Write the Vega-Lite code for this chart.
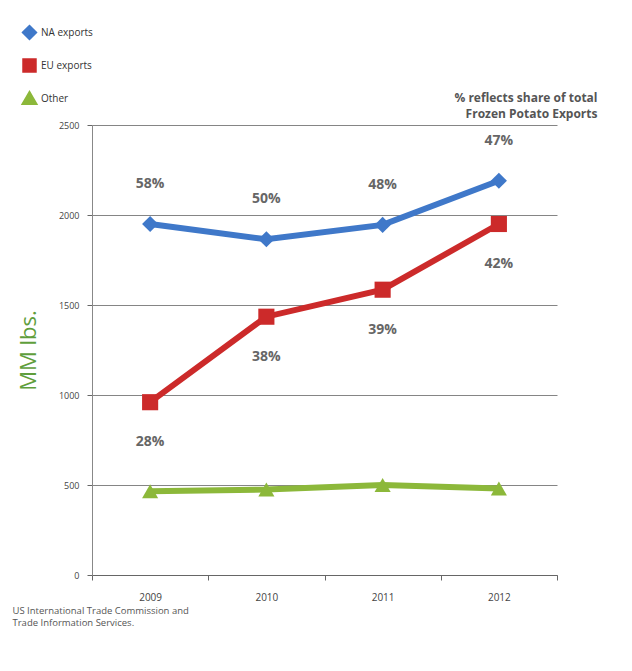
{
  "$schema": "https://vega.github.io/schema/vega-lite/v6.json",
  "width": 465,
  "height": 450,
  "padding": {"left": 12, "top": 25, "right": 20, "bottom": 5},
  "background": "white",
  "title": {
    "text": ["% reflects share of total", "Frozen Potato Exports"],
    "anchor": "end",
    "fontSize": 12,
    "fontWeight": "bold",
    "color": "#555555",
    "font": "Open Sans",
    "lineHeight": 16,
    "offset": -96,
    "dx": 40
  },
  "data": {
    "values": [
      {"year": "2009", "series": "NA exports", "value": 1950, "share": "58%"},
      {"year": "2010", "series": "NA exports", "value": 1865, "share": "50%"},
      {"year": "2011", "series": "NA exports", "value": 1945, "share": "48%"},
      {"year": "2012", "series": "NA exports", "value": 2190, "share": "47%"},
      {"year": "2009", "series": "EU exports", "value": 960, "share": "28%"},
      {"year": "2010", "series": "EU exports", "value": 1435, "share": "38%"},
      {"year": "2011", "series": "EU exports", "value": 1585, "share": "39%"},
      {"year": "2012", "series": "EU exports", "value": 1950, "share": "42%"},
      {"year": "2009", "series": "Other", "value": 465, "share": ""},
      {"year": "2010", "series": "Other", "value": 475, "share": ""},
      {"year": "2011", "series": "Other", "value": 500, "share": ""},
      {"year": "2012", "series": "Other", "value": 480, "share": ""}
    ]
  },
  "encoding": {
    "x": {
      "field": "year",
      "type": "ordinal",
      "scale": {"type": "band", "paddingInner": 0, "paddingOuter": 0},
      "bandPosition": 0.5,
      "axis": {
        "labelAngle": 0,
        "labelFontSize": 10,
        "labelColor": "#444444",
        "labelPadding": 12,
        "tickBand": "extent",
        "tickColor": "#666666",
        "domainColor": "#666666",
        "title": ["US International Trade Commission and", "Trade Information Services."],
        "titleAnchor": "start",
        "titleAlign": "left",
        "titleBaseline": "top",
        "titleFontSize": 9.5,
        "titleFontWeight": "normal",
        "titleColor": "#555555",
        "titleX": -80,
        "titleY": 30,
        "titleLineHeight": 12
      }
    },
    "y": {
      "field": "value",
      "type": "quantitative",
      "scale": {"domain": [0, 2500]},
      "axis": {
        "values": [0, 500, 1000, 1500, 2000, 2500],
        "format": "d",
        "labelFontSize": 9,
        "labelColor": "#444444",
        "gridColor": "#666666",
        "gridWidth": 0.8,
        "domainColor": "#888888",
        "tickColor": "#666666",
        "tickSize": 5,
        "labelPadding": 8,
        "title": "MM lbs.",
        "titleFontSize": 22,
        "titleFontWeight": "normal",
        "titleColor": "#5f9e3c",
        "titleFont": "Open Sans",
        "titlePadding": 18
      }
    },
    "color": {
      "field": "series",
      "type": "nominal",
      "scale": {
        "domain": ["NA exports", "EU exports", "Other"],
        "range": ["#3f78c9", "#cc2a2a", "#8cb83a"]
      },
      "legend": {
        "orient": "none",
        "legendX": -70,
        "legendY": -100,
        "title": null,
        "labelFontSize": 10,
        "labelColor": "#333333",
        "symbolSize": 110,
        "symbolStrokeWidth": 4,
        "rowPadding": 6
      }
    }
  },
  "layer": [
    {
      "mark": {"type": "line", "strokeWidth": 6}
    },
    {
      "mark": {"type": "point", "filled": true, "size": 260, "opacity": 1},
      "encoding": {
        "shape": {
          "field": "series",
          "type": "nominal",
          "scale": {
            "domain": ["NA exports", "EU exports", "Other"],
            "range": ["diamond", "square", "triangle-up"]
          },
          "legend": null
        }
      }
    },
    {
      "transform": [{"filter": "datum.series === 'NA exports'"}],
      "mark": {"type": "text", "dy": -40, "fontSize": 14, "fontWeight": "bold", "font": "Open Sans"},
      "encoding": {"text": {"field": "share"}, "color": {"value": "#666666"}}
    },
    {
      "transform": [{"filter": "datum.series === 'EU exports'"}],
      "mark": {"type": "text", "dy": 40, "fontSize": 14, "fontWeight": "bold", "font": "Open Sans"},
      "encoding": {"text": {"field": "share"}, "color": {"value": "#666666"}}
    }
  ],
  "config": {"view": {"stroke": null}, "font": "Open Sans"}
}
